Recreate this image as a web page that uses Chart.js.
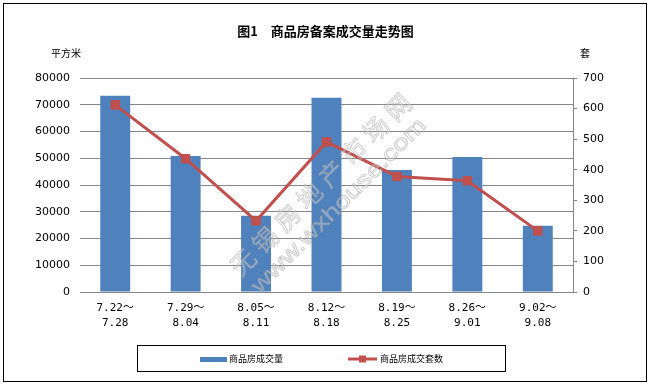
<!DOCTYPE html>
<html>
<head>
<meta charset="utf-8">
<script src="https://cdn.jsdelivr.net/npm/chart.js@4.4.1/dist/chart.umd.min.js"></script>
<style>
  html, body { margin: 0; padding: 0; background: #fff; }
</style>
</head>
<body>
<canvas id="chart" width="651" height="386"></canvas>
<script>
// Data
const weeks = [
  ['7.22～', '7.28'],
  ['7.29～', '8.04'],
  ['8.05～', '8.11'],
  ['8.12～', '8.18'],
  ['8.19～', '8.25'],
  ['8.26～', '9.01'],
  ['9.02～', '9.08']
]
const areaSold = [73400, 50800, 28500, 72600, 45600, 50500, 24800]
const unitsSold = [612, 436, 233, 491, 378, 364, 200]

const areaLabel = '商品房成交量'
const unitsLabel = '商品房成交套数'
const titleText = '图1　商品房备案成交量走势图'
const leftAxisTitle = '平方米'
const rightAxisTitle = '套'
const watermarkName = '无锡房地产市场网'
const watermarkUrl = 'www.wxhouse.com'

const blue = '#4F81BD'
const red = '#C0504D'
const gridGray = '#868686'
const cjk = "'Noto Sans CJK SC', sans-serif"
const numFont = "'DejaVu Sans', sans-serif"

// faint diagonal watermark over the plot
const watermark = {
  id: 'watermark',
  afterDatasetsDraw(chart) {
    const ctx = chart.ctx
    ctx.save()
    ctx.fillStyle = 'rgba(255,255,255,0.35)'
    ctx.strokeStyle = 'rgba(150,150,150,0.45)'
    ctx.lineWidth = 1
    ctx.textAlign = 'center'
    ctx.textBaseline = 'middle'

    // site name, one glyph at a time along the diagonal
    ctx.font = `25px ${cjk}`
    const x0 = 243, y0 = 262, x1 = 398, y1 = 107
    const n = watermarkName.length
    for (let i = 0; i < n; i++) {
      const t = i / (n - 1)
      ctx.save()
      ctx.translate(x0 + (x1 - x0) * t, y0 + (y1 - y0) * t)
      ctx.rotate(-Math.PI / 4)
      ctx.fillText(watermarkName[i], 0, 0)
      ctx.strokeText(watermarkName[i], 0, 0)
      ctx.restore()
    }

    // url
    ctx.font = "22px 'Liberation Sans', sans-serif"
    const w = ctx.measureText(watermarkUrl).width
    ctx.translate(339, 206)
    ctx.rotate(-Math.PI / 4)
    ctx.scale(237 / w, 1)
    ctx.fillText(watermarkUrl, 0, 0)
    ctx.strokeText(watermarkUrl, 0, 0)
    ctx.restore()
  }
}

// Extras: axis titles, legend box, outer frame
const decorations = {
  id: 'decorations',
  afterDraw(chart) {
    const ctx = chart.ctx
    ctx.save()
    ctx.fillStyle = '#000'
    ctx.textBaseline = 'middle'
    ctx.textAlign = 'center'
    ctx.font = `10px ${cjk}`
    ctx.fillText(leftAxisTitle, 66, 53)
    ctx.fillText(rightAxisTitle, 585, 53)

    // legend
    ctx.strokeStyle = '#000'
    ctx.lineWidth = 1
    ctx.strokeRect(137.5, 345.5, 368, 26)
    const ly = 359
    ctx.fillStyle = blue
    ctx.fillRect(200, ly - 2, 27, 5)
    ctx.fillStyle = '#000'
    ctx.textAlign = 'left'
    ctx.font = `9px ${cjk}`
    ctx.fillText(chart.data.datasets[1].label, 229, ly)

    ctx.strokeStyle = red
    ctx.lineWidth = 3
    ctx.beginPath()
    ctx.moveTo(348, ly)
    ctx.lineTo(377, ly)
    ctx.stroke()
    ctx.fillStyle = red
    ctx.fillRect(359, ly - 3.5, 7, 7)
    ctx.fillStyle = '#000'
    ctx.fillText(chart.data.datasets[0].label, 380, ly)

    // frame
    ctx.strokeStyle = '#000'
    ctx.lineWidth = 1
    ctx.strokeRect(3.5, 3.5, 643, 378)
    ctx.restore()
  }
}

const ctx = document.getElementById('chart').getContext('2d')
new Chart(ctx, {
  type: 'bar',
  data: {
    labels: weeks,
    datasets: [
      {
        type: 'line',
        label: unitsLabel,
        data: unitsSold,
        yAxisID: 'y1',
        borderColor: red,
        backgroundColor: red,
        borderWidth: 3,
        pointStyle: 'rect',
        pointRadius: 6,
        pointBorderWidth: 1,
        pointBackgroundColor: red,
        pointBorderColor: red,
        tension: 0,
        order: 0
      },
      {
        type: 'bar',
        label: areaLabel,
        data: areaSold,
        yAxisID: 'y',
        backgroundColor: blue,
        borderWidth: 0,
        categoryPercentage: 1,
        barPercentage: 0.425,
        order: 1
      }
    ]
  },
  options: {
    responsive: false,
    animation: false,
    layout: { padding: { left: 0, right: 0, top: 0, bottom: 0 } },
    plugins: {
      legend: { display: false },
      tooltip: { enabled: false },
      title: {
        display: true,
        text: titleText,
        color: '#000',
        font: { family: cjk, size: 13, weight: 'bold', lineHeight: 1.2 },
        padding: { top: 23, bottom: 39.4 }
      }
    },
    scales: {
      x: {
        grid: { display: false, drawTicks: false },
        border: { display: false },
        ticks: {
          color: '#000',
          padding: 9,
          maxRotation: 0,
          autoSkip: false,
          font: { family: "'DejaVu Sans Mono', 'Noto Sans CJK SC', monospace", size: 11, lineHeight: 1.36 }
        },
        afterFit(scale) { scale.height = 94 }
      },
      y: {
        position: 'left',
        min: 0,
        max: 80000,
        grid: { color: gridGray, drawTicks: false, lineWidth: 1 },
        border: { display: false },
        ticks: {
          stepSize: 10000,
          color: '#000',
          padding: 10,
          font: { family: numFont, size: 11 },
          callback: (v) => String(v)
        },
        afterFit(scale) { scale.width = 80 }
      },
      y1: {
        position: 'right',
        min: 0,
        max: 700,
        grid: { drawOnChartArea: false, color: gridGray, drawTicks: true, tickLength: 4 },
        border: { display: true, color: gridGray, width: 1 },
        ticks: {
          stepSize: 100,
          color: '#000',
          padding: 6,
          font: { family: numFont, size: 11 },
          callback: (v) => String(v)
        },
        afterFit(scale) { scale.width = 78 }
      }
    }
  },
  plugins: [watermark, decorations]
})
</script>
</body>
</html>
